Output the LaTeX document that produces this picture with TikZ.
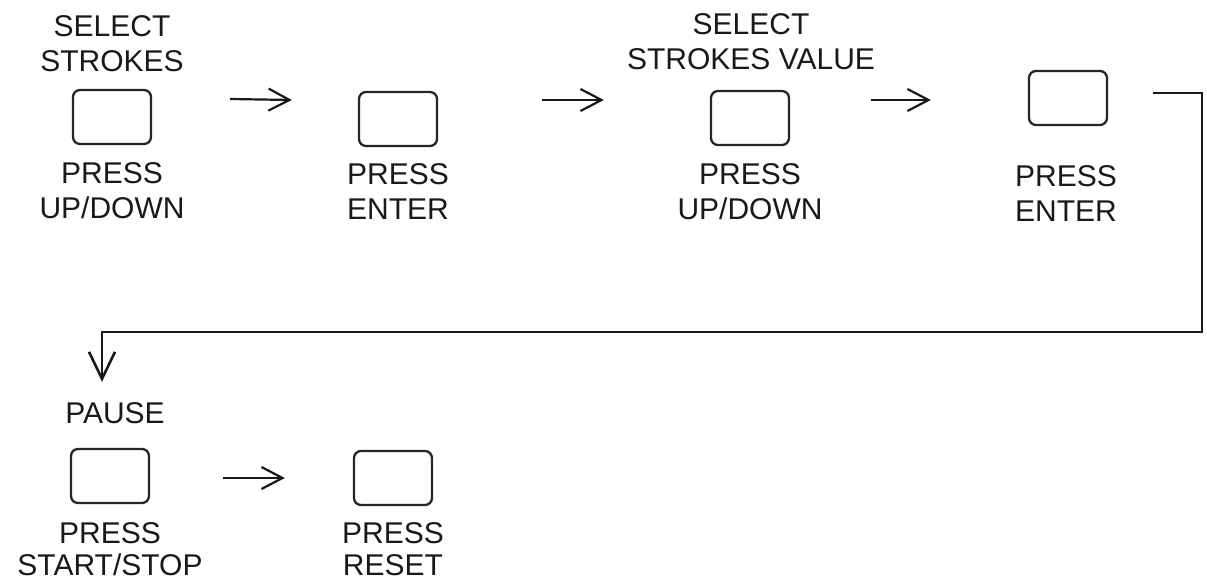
\documentclass[tikz,border=0pt]{standalone}
\usepackage{fontspec}
\setmainfont{Liberation Sans}
\usetikzlibrary{arrows.meta}
\begin{document}
\begin{tikzpicture}[x=1pt,y=1pt,
  key/.style={draw=black!85, line width=2.3pt, rounded corners=7pt, minimum width=78pt, minimum height=54pt, inner sep=0pt},
  lbl/.style={anchor=north, inner sep=0pt, align=center, font=\fontsize{30}{35.5}\selectfont, text=black!90},
  tightlbl/.style={lbl, font=\fontsize{30}{32}\selectfont},
  arr/.style={line width=2.2pt, draw=black!90, -{Straight Barb[length=21pt,width=22pt,line width=2.2pt]}},
  bigarr/.style={line width=2.6pt, draw=black!90, -{Straight Barb[length=27pt,width=26pt,line width=2.6pt]}}]
\useasboundingbox (0,0) rectangle (1207,-581);
% keys
\node[key] (b1) at (112,-117) {};
\node[key] (b2) at (398,-119) {};
\node[key] (b3) at (750,-118) {};
\node[key] (b4) at (1068,-98) {};
\node[key] (b5) at (110,-476) {};
\node[key] (b6) at (393,-478) {};
% labels
\node[lbl] (t1) at (112,-15) {SELECT\\STROKES};
\node[lbl] (l1) at (112,-162) {PRESS\\UP/DOWN};
\node[lbl] (l2) at (398,-163) {PRESS\\ENTER};
\node[lbl] (t3) at (751,-13) {SELECT\\STROKES VALUE};
\node[lbl] (l3) at (750,-163) {PRESS\\UP/DOWN};
\node[lbl] (l4) at (1066,-165) {PRESS\\ENTER};
\node[lbl] (t5) at (115,-402) {PAUSE};
\node[tightlbl] (l5) at (110,-522) {PRESS\\START/STOP};
\node[tightlbl] (l6) at (393,-522) {PRESS\\RESET};
% arrows
\draw[arr] ([shift={(78,18)}]b1.east) -- ([shift={(-66,19)}]b2.west);
\draw[arr] ([shift={(104,19)}]b2.east) -- ([shift={(-106,18)}]b3.west);
\draw[arr] ([shift={(81,18)}]b3.east) -- ([shift={(-97,-2)}]b4.west);
\draw[arr] ([shift={(73,-2)}]b5.east) -- ([shift={(-68,0)}]b6.west);
\coordinate (turn) at (1202,-332);
\draw[bigarr] ([shift={(45,5)}]b4.east) -| (turn) -| ([shift={(-8,66)}]b5.north);
\end{tikzpicture}
\end{document}
